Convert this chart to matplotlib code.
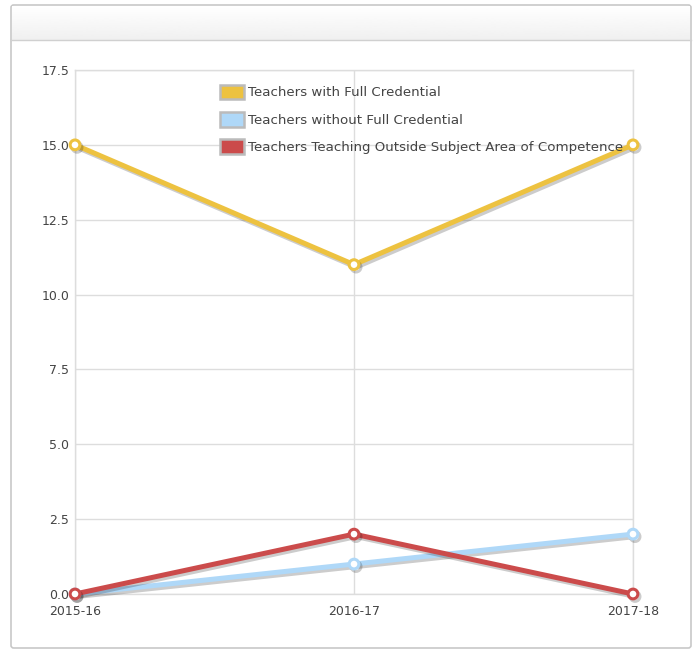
import matplotlib
matplotlib.use("Agg")
import matplotlib.pyplot as plt
import matplotlib.patheffects as pe
from matplotlib.patches import Rectangle, Patch, FancyBboxPatch
import numpy as np

years = ["2015-16", "2016-17", "2017-18"]
full_cred = [15, 11, 15]
without_full = [0, 1, 2]
outside_subject = [0, 2, 0]
series_names = ["Teachers with Full Credential",
                "Teachers without Full Credential",
                "Teachers Teaching Outside Subject Area of Competence"]
colors = ["#EDC240", "#AFD8F8", "#CB4B4B"]
yticks = [0.0, 2.5, 5.0, 7.5, 10.0, 12.5, 15.0, 17.5]

W, H = 697, 651
fig = plt.figure(figsize=(W/100, H/100), dpi=100)
fig.patch.set_facecolor("white")

def fx(px): return px / W
def fy(py): return 1 - py / H

# outer panel
panel = FancyBboxPatch((fx(11), fy(648)), fx(691) - fx(11), fy(5) - fy(648),
                       boxstyle="round,pad=0,rounding_size=0.004",
                       transform=fig.transFigure, facecolor="white",
                       edgecolor="#C8C8C8", linewidth=1.2, zorder=0)
fig.patches.append(panel)
# header gradient
grad = np.linspace(1.0, 0.94, 64).reshape(-1, 1)
hax = fig.add_axes([fx(12), fy(40), fx(690) - fx(12), fy(6) - fy(40)], zorder=1)
hax.imshow(grad, aspect="auto", cmap="gray", vmin=0, vmax=1, extent=[0, 1, 0, 1])
hax.set_axis_off()
fig.add_artist(plt.Line2D([fx(11), fx(691)], [fy(40), fy(40)], transform=fig.transFigure,
                          color="#D0D0D0", linewidth=1.0))

ax = fig.add_axes([fx(75), fy(594), fx(633) - fx(75), fy(70) - fy(594)], zorder=2)
ax.set_facecolor("none")
x = np.arange(len(years))

shadow = [pe.SimpleLineShadow(offset=(1.5, -1.8), shadow_color="black", alpha=0.2), pe.Normal()]
for vals, col, name, z in zip([full_cred, without_full, outside_subject], colors, series_names, [3, 4, 5]):
    ax.plot(x, vals, color=col, linewidth=3.6, marker="o", markersize=7,
            markerfacecolor="white", markeredgecolor=col, markeredgewidth=2.2,
            solid_capstyle="round", path_effects=shadow, zorder=z, clip_on=False)

ax.set_xlim(0, 2)
ax.set_ylim(0, 17.5)
ax.set_yticks(yticks)
ax.set_yticklabels([f"{v:.1f}" for v in yticks])
ax.set_xticks(x)
ax.set_xticklabels(years)
ax.grid(True, color="#DDDDDD", linewidth=1.0)
ax.set_axisbelow(True)
for s in ax.spines.values():
    s.set_color("#DDDDDD")
    s.set_linewidth(1.0)
ax.tick_params(length=0, colors="#444444", labelsize=9)
ax.tick_params(axis="y", pad=4)
ax.tick_params(axis="x", pad=8)

handles = [Patch(facecolor=c, edgecolor="#BBBBBB", linewidth=1.8) for c in colors]
leg = ax.legend(handles, series_names, loc="upper left",
                bbox_to_anchor=(fx(213), fy(78)), bbox_transform=fig.transFigure,
                frameon=False, fontsize=9.6, handlelength=1.8, handleheight=1.3,
                handletextpad=0.3, labelspacing=0.95, borderpad=0, labelcolor="#444444")
leg.set_zorder(10)

fig.savefig("out.png", dpi=100)
